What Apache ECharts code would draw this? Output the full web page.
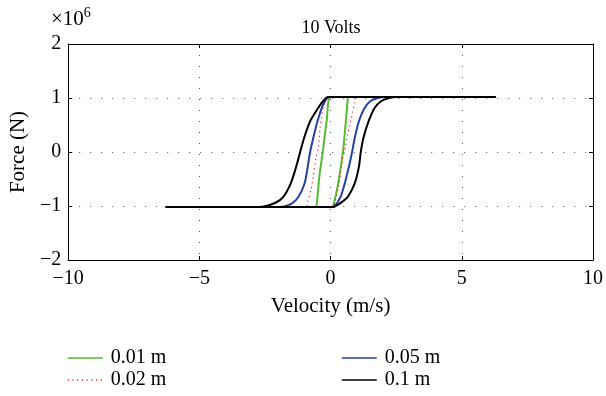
<!DOCTYPE html>
<html>
<head>
<meta charset="utf-8">
<script src="https://cdn.jsdelivr.net/npm/echarts@6/dist/echarts.min.js"></script>
<style>
html,body{margin:0;padding:0;background:#fff;}
#chart{width:606px;height:396px;}
</style>
</head>
<body>
<div id="chart"></div>
<script>
// ---- data (velocity m/s, force x10^6 N) ----
const seriesNames = ['0.01 m', '0.02 m', '0.05 m', '0.1 m'];
const xTicks = [-10, -5, 0, 5, 10];
const yTicks = [-2, -1, 0, 1, 2];

// 0.01 m loop
const vel001 = [-0.66, 0.05, 0.10, 0.29, 0.48, 0.58, 0.66, 0.00, -0.15, -0.30, -0.43, -0.53, -0.56, -0.66];
const force001 = [-1.02, -1.02, -1.00, -0.58, 0.04, 0.57, 1.02, 1.02, 0.57, 0.00, -0.46, -0.98, -1.02, -1.02];

// 0.02 m loop
const vel002 = [-1.26, 0.05, 0.16, 0.32, 0.45, 0.54, 0.66, 0.79, 0.92, 1.00, 1.26, -0.05, -0.28, -0.40, -0.47, -0.55, -0.66, -0.75, -0.87, -0.92, -1.26];
const force002 = [-1.02, -1.02, -0.94, -0.58, -0.15, 0.04, 0.35, 0.63, 0.91, 1.02, 1.02, 1.02, 0.81, 0.44, 0.07, -0.09, -0.46, -0.70, -0.92, -1.02, -1.02];

// 0.05 m loop
const vel005 = [-3.14, 0.05, 0.16, 0.38, 0.54, 0.70, 0.82, 0.92, 1.08, 1.29, 1.51, 1.79, 2.10, 3.14, -0.06, -0.28, -0.50, -0.66, -0.78, -0.87, -0.99, -1.22, -1.47, -1.79, -2.10, -3.14];
const force005 = [-1.02, -1.02, -1.00, -0.83, -0.58, -0.27, 0.00, 0.26, 0.57, 0.81, 0.94, 1.00, 1.02, 1.02, 1.02, 0.88, 0.57, 0.26, 0.00, -0.27, -0.58, -0.83, -0.95, -1.01, -1.02, -1.02];

// 0.1 m loop
const vel01 = [-6.30, 0.10, 0.30, 0.50, 0.66, 0.92, 1.08, 1.15, 1.25, 1.45, 1.67, 1.92, 2.23, 2.50, 6.30, -0.10, -0.29, -0.48, -0.78, -1.01, -1.16, -1.31, -1.51, -1.80, -2.10, -2.55, -3.00, -6.30];
const force01 = [-1.02, -1.02, -0.97, -0.90, -0.83, -0.58, -0.27, 0.00, 0.26, 0.57, 0.81, 0.94, 1.00, 1.02, 1.02, 1.02, 0.94, 0.81, 0.57, 0.26, 0.00, -0.27, -0.57, -0.83, -0.94, -1.01, -1.02, -1.02];

const pair = (xs, ys) => xs.map((x, i) => [x, ys[i]]);
const minus = v => String(v).replace('-', '\u2212');

const FONT = 'Liberation Serif';
const chart = echarts.init(document.getElementById('chart'), null, {renderer: 'canvas'});

const axisCommon = {
  axisLine: {show: true, onZero: false, lineStyle: {color: '#000', width: 1}},
  axisTick: {show: true, inside: true, length: 4, lineStyle: {color: '#000'}},
  axisLabel: {show: false},
  splitLine: {show: false}
};

const legendCommon = {
  orient: 'vertical', itemWidth: 35, itemHeight: 12, itemGap: 2, padding: 0,
  itemStyle: {opacity: 0, borderWidth: 0},
  lineStyle: {width: 1.5},
  textStyle: {fontFamily: FONT, fontSize: 20, color: '#000', padding: [0, 0, 0, 3]}
};

const option = {
  animation: false,
  backgroundColor: '#fff',
  title: {
    text: '10 Volts', left: 331, top: 19, textAlign: 'center', padding: 0,
    textStyle: {fontFamily: FONT, fontSize: 18, fontWeight: 'normal', color: '#000'}
  },
  graphic: [{
    type: 'text', left: 51, top: 6,
    style: {
      text: '{a|\u00d710}{b|6}',
      rich: {
        a: {fontFamily: FONT, fontSize: 21, fill: '#000', verticalAlign: 'bottom'},
        b: {fontFamily: FONT, fontSize: 14, fill: '#000', verticalAlign: 'top', padding: [0, 0, 10, 0]}
      }
    }
  }],
  legend: [
    Object.assign({left: 67, top: 348, data: [seriesNames[0], seriesNames[1]]}, legendCommon),
    Object.assign({left: 341, top: 348, data: [seriesNames[2], seriesNames[3]]}, legendCommon)
  ],
  grid: {left: 65, right: 10, top: 44, bottom: 136, containLabel: false},
  xAxis: [
    {
      type: 'value', min: xTicks[0], max: xTicks[xTicks.length - 1], interval: 5,
      name: 'Velocity (m/s)', nameLocation: 'middle', nameGap: 36,
      nameTextStyle: {fontFamily: FONT, fontSize: 21, color: '#000'},
      axisLine: {show: true, onZero: false, lineStyle: {color: '#000', width: 1}},
      axisTick: {show: true, inside: true, length: 4, lineStyle: {color: '#000'}},
      axisLabel: {fontFamily: FONT, fontSize: 20, color: '#000', margin: 9, formatter: minus},
      splitLine: {show: true, lineStyle: {color: '#555', type: [1, 10], width: 1}}
    },
    Object.assign({type: 'value', position: 'top', min: xTicks[0], max: xTicks[xTicks.length - 1], interval: 5}, axisCommon)
  ],
  yAxis: [
    {
      type: 'value', min: yTicks[0], max: yTicks[yTicks.length - 1], interval: 1,
      name: 'Force (N)', nameLocation: 'middle', nameGap: 35,
      nameTextStyle: {fontFamily: FONT, fontSize: 21, color: '#000'},
      axisLine: {show: true, onZero: false, lineStyle: {color: '#000', width: 1}},
      axisTick: {show: true, inside: true, length: 4, lineStyle: {color: '#000'}},
      axisLabel: {fontFamily: FONT, fontSize: 20, color: '#000', margin: 7, formatter: minus},
      splitLine: {show: true, lineStyle: {color: '#555', type: [1, 10], width: 1}}
    },
    Object.assign({type: 'value', position: 'right', min: yTicks[0], max: yTicks[yTicks.length - 1], interval: 1}, axisCommon)
  ],
  series: [
    {name: seriesNames[0], type: 'line', data: pair(vel001, force001), symbol: 'circle', showSymbol: false, smooth: 0.25,
     lineStyle: {color: '#55bb33', width: 2}, itemStyle: {color: '#55bb33'}},
    {name: seriesNames[1], type: 'line', data: pair(vel002, force002), symbol: 'circle', showSymbol: false, smooth: 0.25,
     lineStyle: {color: '#ff2222', width: 1.2, type: [1.2, 3.5]}, itemStyle: {color: '#ff2222'}},
    {name: seriesNames[2], type: 'line', data: pair(vel005, force005), symbol: 'circle', showSymbol: false, smooth: 0.25,
     lineStyle: {color: '#2840a0', width: 2}, itemStyle: {color: '#2840a0'}},
    {name: seriesNames[3], type: 'line', data: pair(vel01, force01), symbol: 'circle', showSymbol: false, smooth: 0.25,
     lineStyle: {color: '#000', width: 2}, itemStyle: {color: '#000'}}
  ]
};
chart.setOption(option);
</script>
</body>
</html>
